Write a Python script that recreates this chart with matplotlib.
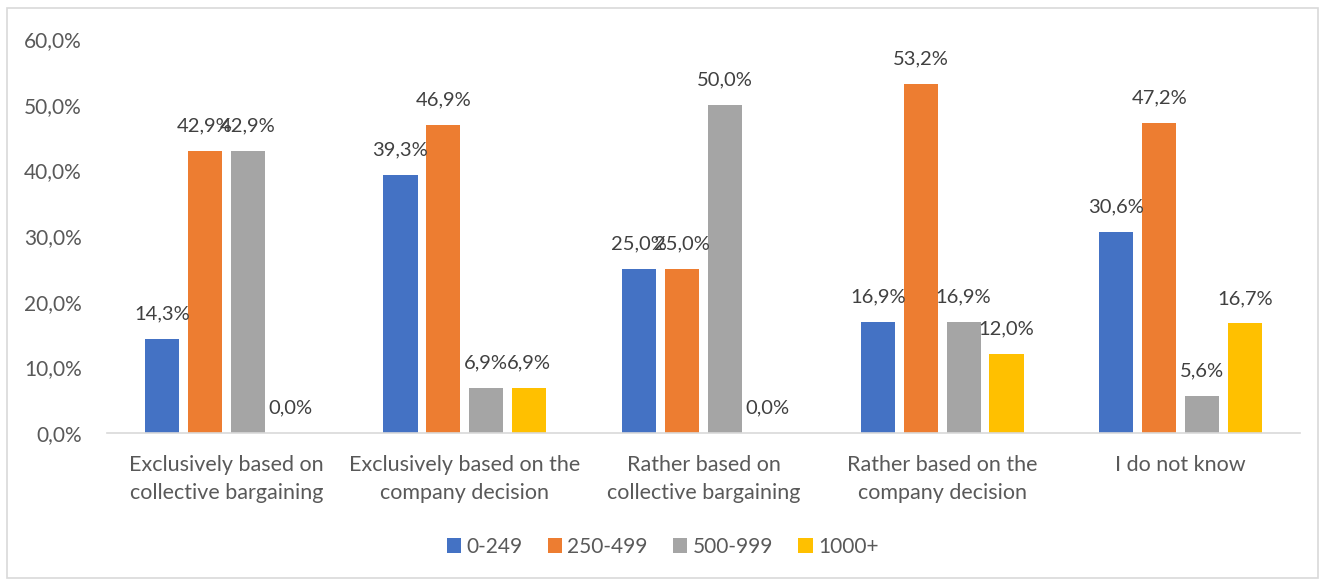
import matplotlib
matplotlib.use("Agg")
import matplotlib.pyplot as plt
import numpy as np
from matplotlib.patches import Rectangle

CATEGORIES = [
    "Exclusively based on\ncollective bargaining",
    "Exclusively based on the\ncompany decision",
    "Rather based on\ncollective bargaining",
    "Rather based on the\ncompany decision",
    "I do not know",
]
SIZE_GROUPS = ["0-249", "250-499", "500-999", "1000+"]
VALUES = {
    "0-249": [14.3, 39.3, 25.0, 16.9, 30.6],
    "250-499": [42.9, 46.9, 25.0, 53.2, 47.2],
    "500-999": [42.9, 6.9, 50.0, 16.9, 5.6],
    "1000+": [0.0, 6.9, 0.0, 12.0, 16.7],
}
COLORS = ["#4472C4", "#ED7D31", "#A5A5A5", "#FFC000"]
Y_TICKS = [0, 10, 20, 30, 40, 50, 60]

plt.rcParams["font.family"] = ["Lato", "DejaVu Sans"]
TEXT = "#595959"

W, H = 1325, 580
fig = plt.figure(figsize=(W / 100, H / 100), dpi=100)
ax = fig.add_axes([107 / W, 1 - 433 / H, (1300 - 107) / W, (433 - 39) / H])

# chart border
fig.patches.append(Rectangle((7 / W, 2 / H), 1311 / W, 570 / H,
                             transform=fig.transFigure, fill=False,
                             edgecolor="#D9D9D9", linewidth=1.2))

x = np.arange(len(CATEGORIES))
width = 0.143
step = 0.18
offsets = (np.arange(len(SIZE_GROUPS)) - 1.5) * step

for i, grp in enumerate(SIZE_GROUPS):
    vals = VALUES[grp]
    ax.bar(x + offsets[i], vals, width, color=COLORS[i], label=grp)
    for xi, v in zip(x + offsets[i], vals):
        ax.text(xi, v + 2.5, f"{v:.1f}%".replace(".", ","), ha="center",
                va="bottom", fontsize=14.5, color="#404040")

ax.set_xlim(-0.5, len(CATEGORIES) - 0.5)
ax.set_ylim(0, 60)
ax.set_yticks(Y_TICKS)
ax.set_yticklabels([f"{t:.1f}%".replace(".", ",") for t in Y_TICKS])
ax.set_xticks(x)
ax.set_xticklabels(CATEGORIES, fontsize=15.5, color=TEXT, linespacing=1.5)
ax.tick_params(axis="y", length=0, pad=18, labelsize=15, labelcolor=TEXT)
ax.tick_params(axis="x", length=0, pad=16)

for side in ["top", "right", "left"]:
    ax.spines[side].set_visible(False)
ax.spines["bottom"].set_color("#D9D9D9")
ax.spines["bottom"].set_linewidth(1.2)

leg = fig.legend(loc="center", bbox_to_anchor=(0.5, 1 - 547 / H), ncol=4,
                 frameon=False, fontsize=15, handlelength=0.7,
                 handleheight=0.7, handletextpad=0.25, columnspacing=1.2)
for t in leg.get_texts():
    t.set_color(TEXT)

fig.savefig("out.png", dpi=100)
